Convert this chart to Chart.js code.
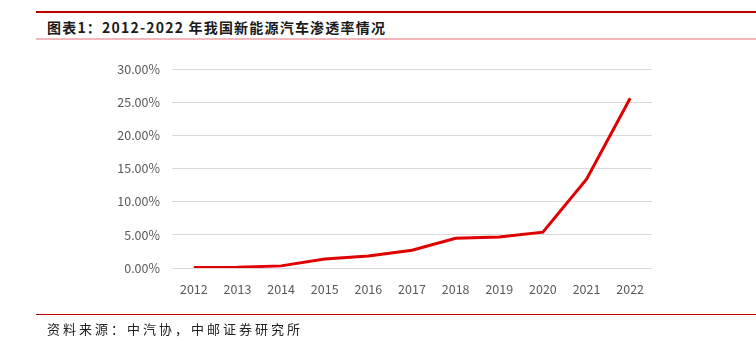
<!DOCTYPE html>
<html>
<head>
<meta charset="utf-8">
<script src="https://cdn.jsdelivr.net/npm/chart.js@4"></script>
<style>
  body { margin: 0; width: 756px; height: 341px; background: #fff; position: relative; overflow: hidden; font-family: "Noto Sans CJK SC", sans-serif; }
  .topline { position: absolute; left: 36px; right: 0; top: 11px; height: 2px; background: #c00000; }
  .title { position: absolute; left: 47px; top: 17px; font-size: 14px; font-weight: bold; color: #1a1a1a; letter-spacing: 1.2px; }
  .subline { position: absolute; left: 36px; right: 0; top: 38px; height: 2px; background: #f0b8b8; }
  .footline { position: absolute; left: 36px; right: 0; top: 314px; height: 1px; background: #c00000; }
  .source { position: absolute; left: 47px; top: 319px; font-size: 13px; color: #222; letter-spacing: 3px; }
  #wrap { position: absolute; left: 0; top: 0; width: 756px; height: 341px; }
</style>
</head>
<body>
<div class="topline"></div>
<div class="title">图表1：2012-2022 年我国新能源汽车渗透率情况</div>
<div class="subline"></div>
<div id="wrap"><canvas id="c"></canvas></div>
<div class="footline"></div>
<div class="source">资料来源：中汽协，中邮证券研究所</div>
<script>
const years = ["2012", "2013", "2014", "2015", "2016", "2017", "2018", "2019", "2020", "2021", "2022"];
const penetration = [0.08, 0.12, 0.32, 1.35, 1.81, 2.69, 4.47, 4.68, 5.4, 13.4, 25.6];

new Chart(document.getElementById("c"), {
  type: "line",
  data: {
    labels: years,
    datasets: [{
      label: "渗透率",
      data: penetration,
      borderColor: "#e00000",
      borderWidth: 3,
      pointRadius: 0,
      tension: 0,
      fill: false,
    }],
  },
  options: {
    responsive: true,
    maintainAspectRatio: false,
    animation: false,
    layout: { padding: { left: 100, right: 104, top: 69, bottom: 38 } },
    plugins: { legend: { display: false }, tooltip: { enabled: false } },
    scales: {
      x: {
        offset: true,
        grid: { display: false },
        border: { display: false },
        ticks: { color: "#595959", font: { size: 12.5, family: "Noto Sans CJK SC" }, padding: 6, maxRotation: 0 },
      },
      y: {
        min: 0,
        max: 30,
        afterFit: (s) => { s.width = 72; },
        grid: { color: "#d9d9d9", lineWidth: 1, drawTicks: false },
        border: { display: false },
        ticks: {
          stepSize: 5,
          padding: 12,
          color: "#595959",
          font: { size: 12.5, family: "Noto Sans CJK SC" },
          callback: (v) => v.toFixed(2) + "%",
        },
      },
    },
  },
});
</script>
</body>
</html>
